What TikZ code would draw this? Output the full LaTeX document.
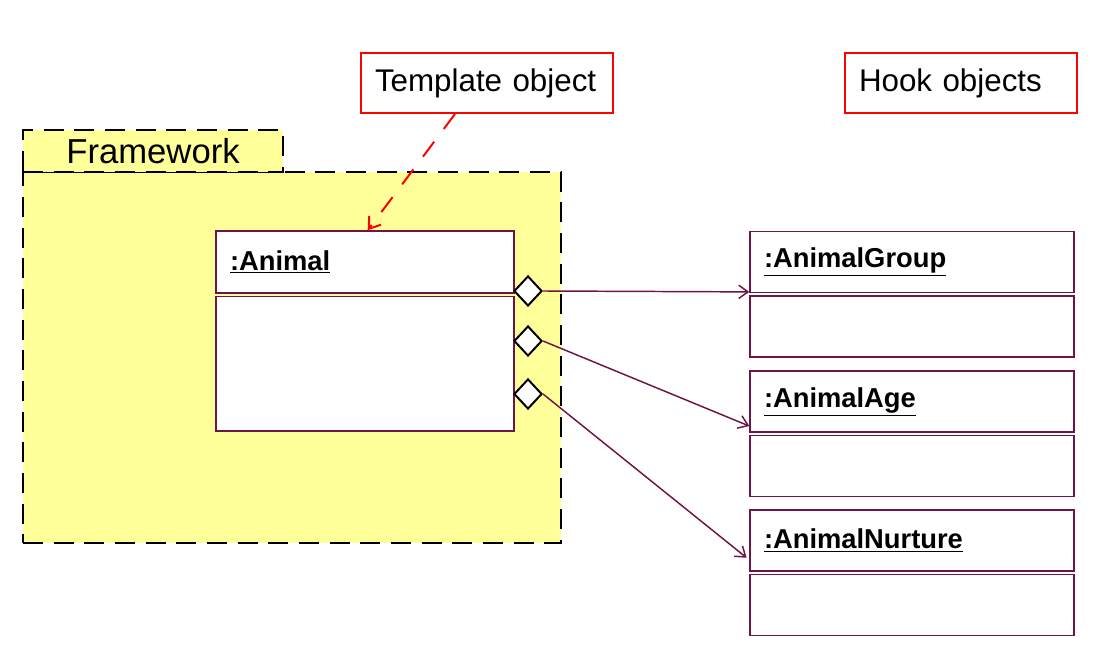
\documentclass[tikz,border=0pt]{standalone}
\usepackage{fontspec}
\setmainfont{Liberation Sans}
\usetikzlibrary{shapes.geometric, arrows.meta, positioning}
\definecolor{umlline}{RGB}{110,20,70}
\definecolor{fwyellow}{RGB}{255,255,153}
\tikzstyle{note} = [rectangle, draw=red, line width=1.5pt, fill=white, minimum height=45pt, inner xsep=10.5pt, align=left, font=\fontsize{23.5}{28}\selectfont]
\tikzstyle{frame} = [rectangle, draw=black, line width=1.9pt, dash pattern=on 15pt off 8pt, fill=fwyellow, inner sep=0pt]
\tikzstyle{objhead} = [rectangle, draw=umlline, line width=1.1pt, fill=white, inner xsep=10.5pt, align=left, font=\fontsize{20.5}{24}\bfseries\selectfont]
\tikzstyle{objbody} = [rectangle, draw=umlline, line width=1.1pt, fill=white]
\tikzstyle{agg} = [diamond, draw=black, line width=1.5pt, fill=white, inner sep=0pt, minimum width=21pt, minimum height=22.5pt]
\tikzstyle{arrow} = [draw=umlline, line width=1.1pt, -{Straight Barb[length=7pt, width=10pt]}]
\tikzstyle{tarrow} = [draw=red, line width=1.5pt, dash pattern=on 14pt off 12pt, -{Straight Barb[length=8pt, width=11pt]}]

\begin{document}
\begin{tikzpicture}[x=0.75pt, y=-0.75pt]
        \useasboundingbox (0,0) rectangle (1101,655);
        % Framework package
        \node (fwmain) [frame, minimum width=403.5pt, minimum height=278.25pt] at (292,357.5) {};
        \node (fwtab) [frame, minimum width=195pt, minimum height=31.5pt, font=\fontsize{26}{30}\selectfont] at (153,151) {Framework};
        
        % Notes
        \node (template) [note, text width=168pt] at (487,83) {Template object};
        \node (hooks) [note, text width=153pt] at (961,83) {Hook objects};
        
        % Template object
        \node (animal) [objhead, text width=202.5pt, minimum height=46.5pt] at (365,262) {\underline{:Animal}};
        \node (animalbody) [objbody, below=1.5pt of animal, minimum width=223.5pt, minimum height=101pt] {};
        
        % Aggregation diamonds
        \node (aggGroup) [agg] at (528,291) {};
        \node (aggAge) [agg] at (528,341) {};
        \node (aggNurture) [agg] at (528,394) {};
        
        % Hook objects
        \node (group) [objhead, text width=222pt, minimum height=45.75pt] at (912,262) {\underline{:AnimalGroup}};
        \node (groupbody) [objbody, below=1.5pt of group, minimum width=243pt, minimum height=45.75pt] {};
        \node (age) [objhead, text width=222pt, minimum height=45.75pt] at (912,401.5) {\underline{:AnimalAge}};
        \node (agebody) [objbody, below=1.5pt of age, minimum width=243pt, minimum height=45.75pt] {};
        \node (nurture) [objhead, text width=222pt, minimum height=45.75pt] at (912,540.5) {\underline{:AnimalNurture}};
        \node (nurturebody) [objbody, below=1.5pt of nurture, minimum width=243pt, minimum height=45.75pt] {};
        
        % Connections
        \draw [arrow] (aggGroup.east) -- ([yshift=1pt]group.south west);
        \draw [arrow] (aggAge.east) -- ([yshift=5pt]age.south west);
        \draw [arrow] (aggNurture.east) -- ([xshift=-2pt, yshift=10.5pt]nurture.south west);
        \draw [tarrow] ([xshift=-24pt]template.south) -- ([xshift=2pt]animal.north);
    \end{tikzpicture}
\end{document}
